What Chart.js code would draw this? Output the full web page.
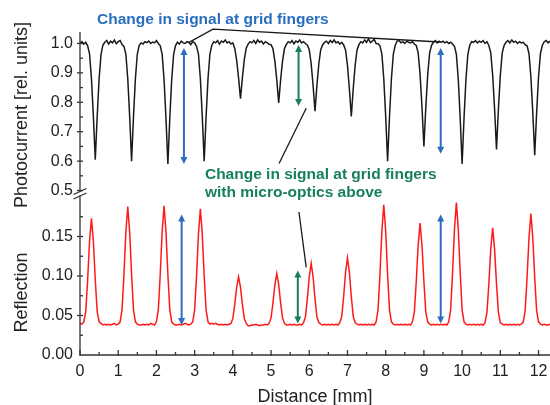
<!DOCTYPE html>
<html>
<head>
<meta charset="utf-8">
<script src="https://cdn.jsdelivr.net/npm/chart.js@4.4.1/dist/chart.umd.min.js"></script>
<style>
  html, body { margin: 0; padding: 0; background: #fff; }
  canvas { display: block; }
</style>
</head>
<body>
<canvas id="chart" width="550" height="405"></canvas>
<script>
// distance along the scan [mm]
const distance = [
  0, 0.05, 0.1, 0.15, 0.2, 0.25, 0.3, 0.35, 0.4, 0.45, 0.5, 0.55, 0.6, 0.65, 0.7, 0.75, 0.8, 0.85, 0.9, 0.95,
  1, 1.05, 1.1, 1.15, 1.2, 1.25, 1.3, 1.35, 1.4, 1.45, 1.5, 1.55, 1.6, 1.65, 1.7, 1.75, 1.8, 1.85, 1.9, 1.95,
  2, 2.05, 2.1, 2.15, 2.2, 2.25, 2.3, 2.35, 2.4, 2.45, 2.5, 2.55, 2.6, 2.65, 2.7, 2.75, 2.8, 2.85, 2.9, 2.95,
  3, 3.05, 3.1, 3.15, 3.2, 3.25, 3.3, 3.35, 3.4, 3.45, 3.5, 3.55, 3.6, 3.65, 3.7, 3.75, 3.8, 3.85, 3.9, 3.95,
  4, 4.05, 4.1, 4.15, 4.2, 4.25, 4.3, 4.35, 4.4, 4.45, 4.5, 4.55, 4.6, 4.65, 4.7, 4.75, 4.8, 4.85, 4.9, 4.95,
  5, 5.05, 5.1, 5.15, 5.2, 5.25, 5.3, 5.35, 5.4, 5.45, 5.5, 5.55, 5.6, 5.65, 5.7, 5.75, 5.8, 5.85, 5.9, 5.95,
  6, 6.05, 6.1, 6.15, 6.2, 6.25, 6.3, 6.35, 6.4, 6.45, 6.5, 6.55, 6.6, 6.65, 6.7, 6.75, 6.8, 6.85, 6.9, 6.95,
  7, 7.05, 7.1, 7.15, 7.2, 7.25, 7.3, 7.35, 7.4, 7.45, 7.5, 7.55, 7.6, 7.65, 7.7, 7.75, 7.8, 7.85, 7.9, 7.95,
  8, 8.05, 8.1, 8.15, 8.2, 8.25, 8.3, 8.35, 8.4, 8.45, 8.5, 8.55, 8.6, 8.65, 8.7, 8.75, 8.8, 8.85, 8.9, 8.95,
  9, 9.05, 9.1, 9.15, 9.2, 9.25, 9.3, 9.35, 9.4, 9.45, 9.5, 9.55, 9.6, 9.65, 9.7, 9.75, 9.8, 9.85, 9.9, 9.95,
  10, 10.05, 10.1, 10.15, 10.2, 10.25, 10.3, 10.35, 10.4, 10.45, 10.5, 10.55, 10.6, 10.65, 10.7, 10.75, 10.8, 10.85, 10.9, 10.95,
  11, 11.05, 11.1, 11.15, 11.2, 11.25, 11.3, 11.35, 11.4, 11.45, 11.5, 11.55, 11.6, 11.65, 11.7, 11.75, 11.8, 11.85, 11.9, 11.95,
  12, 12.05, 12.1, 12.15, 12.2, 12.25, 12.3
];

// photocurrent [rel. units] (top panel)
const photocurrent = [
  1.000, 1.006, 0.998, 1.004, 0.992, 0.965, 0.880, 0.752, 0.605, 0.752, 0.880, 0.962, 0.995, 1.004, 1.010, 0.998, 1.008, 1.002, 1.012, 0.999,
  1.006, 1.010, 0.996, 0.990, 0.964, 0.880, 0.752, 0.600, 0.752, 0.880, 0.964, 0.994, 1.002, 0.998, 1.006, 1.003, 1.008, 1.000, 1.005, 1.002,
  1.010, 1.000, 0.992, 0.963, 0.877, 0.746, 0.590, 0.746, 0.877, 0.963, 0.993, 1.004, 0.998, 1.008, 1.002, 1.000, 1.006, 1.004, 0.996, 1.006,
  1.002, 0.990, 0.964, 0.880, 0.752, 0.600, 0.752, 0.880, 0.964, 0.994, 1.006, 1.002, 1.010, 0.998, 1.008, 1.004, 1.012, 1.002, 1.006, 0.998,
  1.002, 0.983, 0.943, 0.882, 0.812, 0.884, 0.945, 0.984, 0.998, 1.006, 1.002, 1.010, 1.000, 1.012, 1.004, 1.008, 0.998, 1.006, 1.002, 0.997,
  0.996, 0.982, 0.940, 0.876, 0.798, 0.876, 0.940, 0.982, 0.997, 1.006, 1.002, 1.010, 0.999, 1.008, 1.004, 1.012, 1.002, 1.006, 1.000, 0.994,
  0.979, 0.931, 0.857, 0.770, 0.857, 0.931, 0.979, 0.995, 1.004, 1.008, 1.000, 1.010, 1.003, 1.012, 1.002, 1.006, 0.998, 1.004, 0.995, 0.978,
  0.925, 0.845, 0.752, 0.845, 0.925, 0.978, 0.996, 1.006, 1.002, 1.012, 1.004, 1.016, 1.003, 1.008, 1.014, 1.000, 0.999, 0.992, 0.964, 0.880,
  0.752, 0.600, 0.752, 0.880, 0.964, 0.994, 1.008, 1.010, 1.002, 1.006, 1.000, 1.008, 1.004, 1.002, 1.006, 0.998, 0.993, 0.968, 0.895, 0.783,
  0.650, 0.783, 0.895, 0.968, 0.994, 1.004, 1.010, 1.002, 1.008, 1.004, 1.008, 1.002, 1.006, 1.000, 1.004, 0.998, 0.990, 0.963, 0.877, 0.746,
  0.590, 0.746, 0.877, 0.963, 0.994, 1.006, 1.004, 1.010, 1.002, 1.008, 1.004, 1.010, 1.000, 1.006, 0.993, 0.968, 0.892, 0.777, 0.640, 0.777,
  0.892, 0.968, 0.994, 1.004, 1.010, 1.002, 1.012, 1.004, 1.008, 1.000, 1.006, 1.002, 1.004, 0.996, 0.992, 0.966, 0.886, 0.764, 0.620, 0.764,
  0.886, 0.966, 0.994, 1.006, 1.010, 1.002, 1.008
];

// reflection (bottom panel)
const reflection = [
  0.040, 0.039, 0.042, 0.055, 0.095, 0.144, 0.173, 0.144, 0.095, 0.055, 0.042, 0.040, 0.038, 0.039, 0.038, 0.039, 0.038, 0.039, 0.040, 0.038,
  0.039, 0.042, 0.057, 0.102, 0.155, 0.188, 0.155, 0.102, 0.057, 0.042, 0.039, 0.038, 0.038, 0.039, 0.038, 0.039, 0.038, 0.040, 0.039, 0.038,
  0.042, 0.057, 0.102, 0.156, 0.189, 0.156, 0.102, 0.057, 0.042, 0.039, 0.038, 0.038, 0.039, 0.038, 0.039, 0.040, 0.039, 0.038, 0.039, 0.042,
  0.057, 0.100, 0.153, 0.185, 0.153, 0.100, 0.057, 0.042, 0.039, 0.040, 0.039, 0.040, 0.039, 0.038, 0.039, 0.038, 0.039, 0.038, 0.039, 0.040,
  0.046, 0.064, 0.086, 0.099, 0.086, 0.064, 0.046, 0.040, 0.037, 0.037, 0.038, 0.038, 0.039, 0.038, 0.037, 0.038, 0.038, 0.039, 0.038, 0.040,
  0.047, 0.066, 0.089, 0.103, 0.089, 0.066, 0.047, 0.040, 0.038, 0.038, 0.039, 0.038, 0.039, 0.038, 0.038, 0.039, 0.038, 0.041, 0.048, 0.071,
  0.099, 0.116, 0.099, 0.071, 0.048, 0.041, 0.039, 0.038, 0.039, 0.038, 0.039, 0.038, 0.039, 0.038, 0.039, 0.038, 0.041, 0.049, 0.074, 0.105,
  0.123, 0.105, 0.074, 0.049, 0.041, 0.039, 0.038, 0.039, 0.038, 0.039, 0.038, 0.039, 0.038, 0.039, 0.038, 0.042, 0.057, 0.102, 0.157, 0.190,
  0.157, 0.102, 0.057, 0.042, 0.039, 0.038, 0.039, 0.038, 0.039, 0.038, 0.039, 0.038, 0.039, 0.038, 0.042, 0.054, 0.093, 0.139, 0.167, 0.139,
  0.093, 0.054, 0.042, 0.039, 0.038, 0.039, 0.038, 0.039, 0.038, 0.039, 0.038, 0.039, 0.038, 0.042, 0.057, 0.104, 0.159, 0.193, 0.159, 0.104,
  0.057, 0.042, 0.039, 0.038, 0.039, 0.038, 0.039, 0.038, 0.039, 0.038, 0.039, 0.038, 0.041, 0.054, 0.090, 0.134, 0.161, 0.134, 0.090, 0.054,
  0.041, 0.039, 0.038, 0.039, 0.038, 0.039, 0.038, 0.039, 0.038, 0.039, 0.038, 0.039, 0.042, 0.056, 0.098, 0.148, 0.179, 0.148, 0.098, 0.056,
  0.042, 0.039, 0.038, 0.039, 0.038, 0.038, 0.039
];

const distTicks = [0, 1, 2, 3, 4, 5, 6, 7, 8, 9, 10, 11, 12];
const photoTicks = [0.5, 0.6, 0.7, 0.8, 0.9, 1.0];
const reflTicks = [0, 0.05, 0.10, 0.15];

const blue = '#2a6fbd';
const green = '#17805a';
const ink = '#222';
const axisColor = '#333';

Chart.defaults.font.family = '"Liberation Sans", Arial, sans-serif';
Chart.defaults.color = ink;

// annotation anchors, in data units (x in mm, y on the named axis)
const arrows = [
  { axis: 'yPhoto', x: 2.72, from: 0.985, to: 0.59, color: blue },
  { axis: 'yPhoto', x: 9.44, from: 0.985, to: 0.625, color: blue },
  { axis: 'yPhoto', x: 5.72, from: 0.995, to: 0.787, color: green },
  { axis: 'yRefl', x: 2.66, from: 0.178, to: 0.038, color: blue },
  { axis: 'yRefl', x: 9.44, from: 0.178, to: 0.040, color: blue },
  { axis: 'yRefl', x: 5.70, from: 0.107, to: 0.040, color: green }
];
const pointers = [
  { axis: 'yPhoto', pts: [[2.83, 1.002], [3.48, 1.049], [9.42, 1.005]] },
  { axis: 'yPhoto', pts: [[5.92, 0.780], [5.21, 0.592]] },
  { axis: 'yRefl', pts: [[5.73, 0.181], [5.92, 0.111]] }
];
const notes = [
  { text: 'Change in signal at grid fingers', x: 0.445, y: 1.066, color: blue },
  { text: 'Change in signal at grid fingers', x: 3.27, y: 0.539, color: green },
  { text: 'with micro-optics above', x: 3.27, y: 0.478, color: green }
];

function line(ctx, x1, y1, x2, y2) {
  ctx.beginPath();
  ctx.moveTo(x1, y1);
  ctx.lineTo(x2, y2);
  ctx.stroke();
}

function arrowHead(ctx, x, y, dir) {
  ctx.beginPath();
  ctx.moveTo(x, y);
  ctx.lineTo(x - 3.5, y + dir * 7);
  ctx.lineTo(x + 3.5, y + dir * 7);
  ctx.closePath();
  ctx.fill();
}

const overlay = {
  id: 'overlay',
  afterDraw(chart) {
    const ctx = chart.ctx;
    const xs = chart.scales.x;
    const yp = chart.scales.yPhoto;
    const yr = chart.scales.yRefl;
    const area = chart.chartArea;
    const left = area.left;
    const bottom = area.bottom;

    ctx.save();
    ctx.strokeStyle = axisColor;
    ctx.lineWidth = 1.3;

    // axis lines with the break
    const split = yp.getPixelForValue(0.5);
    line(ctx, left, area.top, left, split + 1);
    line(ctx, left, split + 5, left, bottom);
    line(ctx, left, bottom, area.right, bottom);
    line(ctx, left - 6.5, split + 4, left + 6.5, split - 2);
    line(ctx, left - 6.5, split + 8.5, left + 6.5, split + 2.5);

    // ticks, pointing into the plot
    photoTicks.forEach((v, i) => {
      const y = yp.getPixelForValue(v);
      line(ctx, left - 3, y, left + 3, y);
      if (i > 0) {
        const m = yp.getPixelForValue((v + photoTicks[i - 1]) / 2);
        line(ctx, left, m, left + 3, m);
      }
    });
    reflTicks.forEach((v, i) => {
      const y = yr.getPixelForValue(v);
      if (i > 0) line(ctx, left - 3, y, left + 3, y);
      const m = yr.getPixelForValue(v + 0.025);
      line(ctx, left, m, left + 3, m);
    });
    distTicks.forEach(v => {
      const x = xs.getPixelForValue(v);
      line(ctx, x, bottom + 1, x, bottom - 5);
      if (v + 0.5 <= xs.max) {
        const m = xs.getPixelForValue(v + 0.5);
        line(ctx, m, bottom, m, bottom - 3);
      }
    });

    // y axis titles
    ctx.fillStyle = ink;
    ctx.font = '18px "Liberation Sans", Arial, sans-serif';
    ctx.textAlign = 'center';
    ctx.textBaseline = 'middle';
    [[yp, 0.757, 'Photocurrent [rel. units]'], [yr, 0.079, 'Reflection']].forEach(([s, v, t]) => {
      ctx.save();
      ctx.translate(s.left + 22, s.getPixelForValue(v));
      ctx.rotate(-Math.PI / 2);
      ctx.fillText(t, 0, 0);
      ctx.restore();
    });

    // pointer lines
    ctx.strokeStyle = '#1a1a1a';
    ctx.lineWidth = 1.3;
    pointers.forEach(p => {
      const s = chart.scales[p.axis];
      ctx.beginPath();
      p.pts.forEach(([x, y], i) => {
        const px = xs.getPixelForValue(x), py = s.getPixelForValue(y);
        if (i === 0) ctx.moveTo(px, py); else ctx.lineTo(px, py);
      });
      ctx.stroke();
    });

    // double arrows
    arrows.forEach(a => {
      const s = chart.scales[a.axis];
      const x = xs.getPixelForValue(a.x);
      const y1 = s.getPixelForValue(a.from);
      const y2 = s.getPixelForValue(a.to);
      ctx.strokeStyle = a.color;
      ctx.fillStyle = a.color;
      ctx.lineWidth = 2;
      line(ctx, x, y1 + 5, x, y2 - 5);
      arrowHead(ctx, x, y1, 1);
      arrowHead(ctx, x, y2, -1);
    });

    // notes
    ctx.font = 'bold 15.5px "Liberation Sans", Arial, sans-serif';
    ctx.textAlign = 'left';
    ctx.textBaseline = 'alphabetic';
    notes.forEach(n => {
      ctx.fillStyle = n.color;
      ctx.fillText(n.text, xs.getPixelForValue(n.x), yp.getPixelForValue(n.y));
    });
    ctx.restore();
  }
};

const fixedTicks = list => scale => { scale.ticks = list.map(v => ({ value: v })); };

new Chart(document.getElementById('chart'), {
  type: 'line',
  data: {
    labels: distance,
    datasets: [
      {
        label: 'Photocurrent',
        data: photocurrent,
        yAxisID: 'yPhoto',
        borderColor: '#1a1a1a',
        borderWidth: 1.5,
        pointRadius: 0,
        tension: 0
      },
      {
        label: 'Reflection',
        data: reflection,
        yAxisID: 'yRefl',
        borderColor: '#ff1a1a',
        borderWidth: 1.5,
        pointRadius: 0,
        tension: 0
      }
    ]
  },
  options: {
    responsive: false,
    animation: false,
    devicePixelRatio: 1,
    layout: { padding: { top: 32, right: 0, bottom: 0, left: 0 } },
    plugins: { legend: { display: false }, tooltip: { enabled: false } },
    scales: {
      x: {
        type: 'linear',
        min: 0,
        max: 12.3,
        afterBuildTicks: fixedTicks(distTicks),
        afterFit: s => { s.paddingLeft = 0; s.paddingRight = 0; s.height = 50; },
        grid: { display: false, drawTicks: false },
        border: { display: false },
        ticks: { font: { size: 16 }, color: ink, padding: 7, autoSkip: false, maxRotation: 0, callback: v => String(v) },
        title: { display: true, text: 'Distance [mm]', font: { size: 18 }, color: ink, padding: { top: 2, bottom: -3 } }
      },
      // stacked axes are placed bottom-up in definition order
      yRefl: {
        type: 'linear',
        position: 'left',
        stack: 'panels',
        stackWeight: 158,
        min: 0,
        max: 0.2,
        afterBuildTicks: fixedTicks(reflTicks),
        afterFit: s => { s.width = 80; },
        grid: { display: false, drawTicks: false },
        border: { display: false },
        ticks: { font: { size: 16 }, color: ink, padding: 7, autoSkip: false, callback: v => v.toFixed(2) }
      },
      yPhoto: {
        type: 'linear',
        position: 'left',
        stack: 'panels',
        stackWeight: 165,
        min: 0.478,
        max: 1.039,
        afterBuildTicks: fixedTicks(photoTicks),
        afterFit: s => { s.width = 80; },
        grid: { display: false, drawTicks: false },
        border: { display: false },
        ticks: { font: { size: 16 }, color: ink, padding: 7, autoSkip: false, callback: v => v.toFixed(1) }
      }
    }
  },
  plugins: [overlay]
});
</script>
</body>
</html>
